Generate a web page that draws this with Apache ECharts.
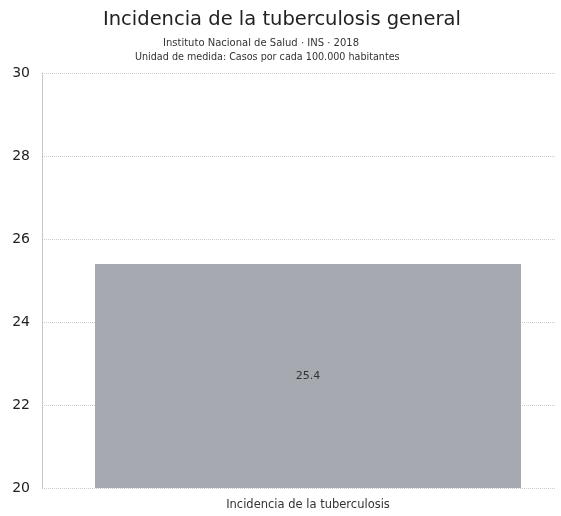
<!DOCTYPE html>
<html><head><meta charset="utf-8">
<script src="https://cdn.jsdelivr.net/npm/echarts@6/dist/echarts.min.js"></script>
<style>html,body{margin:0;padding:0;background:#fff}#c{width:561px;height:516px}</style>
</head><body><div id="c"></div>
<script>
const categories = ["Incidencia de la tuberculosis"];
const values = [25.4];
const yTicks = [20, 22, 24, 26, 28, 30];
const titleText = 'Incidencia de la tuberculosis general';
const subtitleLines = ['Instituto Nacional de Salud · INS · 2018', 'Unidad de medida: Casos por cada 100.000 habitantes'];

const F = 'DejaVu Sans';
const chart = echarts.init(document.getElementById('c'), null, {renderer: 'canvas'});
chart.setOption({
  backgroundColor: '#ffffff',
  animation: false,
  title: [
    {text: titleText, left: 98, top: 5,
     textStyle: {fontFamily: F, fontSize: 19.5, fontWeight: 'normal', color: '#222'}},
    {text: subtitleLines[0], left: 158, top: 33,
     textStyle: {fontFamily: F, fontSize: 10, fontWeight: 'normal', color: '#333'}},
    {text: subtitleLines[1], left: 130, top: 47,
     textStyle: {fontFamily: F, fontSize: 9.6, fontWeight: 'normal', color: '#333'}}
  ],
  grid: [
    {left: 42, right: 6, top: 73, bottom: 28},
    {left: 61, right: 6, top: 73, bottom: 28}
  ],
  xAxis: [
    {type: 'category', data: categories, gridIndex: 0, show: false},
    {type: 'category', data: categories, gridIndex: 1,
     axisLine: {show: false}, axisTick: {show: false},
     axisLabel: {fontFamily: F, fontSize: 11.5, color: '#333', margin: 11}}
  ],
  yAxis: [
    {type: 'value', gridIndex: 0, min: yTicks[0], max: yTicks[yTicks.length-1], interval: 2,
     axisLine: {show: true, lineStyle: {color: '#bbb', type: 'dotted'}},
     axisTick: {show: false},
     axisLabel: {fontFamily: F, fontSize: 14, color: '#222', margin: 12},
     splitLine: {show: true, lineStyle: {color: '#ccc', type: 'dotted'}}},
    {type: 'value', gridIndex: 1, min: yTicks[0], max: yTicks[yTicks.length-1], interval: 2,
     show: false, splitLine: {show: false}}
  ],
  series: [{
    type: 'bar', xAxisIndex: 1, yAxisIndex: 1, data: values, barWidth: 426,
    itemStyle: {color: '#a6aab0'},
    label: {show: true, position: 'inside', formatter: p => p.value.toFixed(1),
      fontFamily: F, fontSize: 11, color: '#333'}
  }]
});
</script></body></html>
